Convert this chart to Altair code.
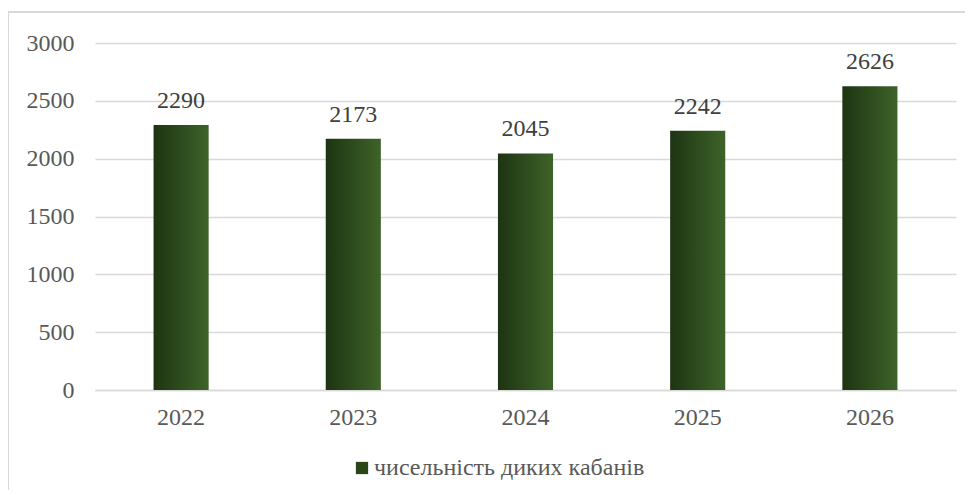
import altair as alt
import pandas as pd

years = ["2022", "2023", "2024", "2025", "2026"]
values = [2290, 2173, 2045, 2242, 2626]
series_name = "чисельність диких кабанів"
y_ticks = [0, 500, 1000, 1500, 2000, 2500, 3000]

df = pd.DataFrame({"year": years, "value": values, "series": [series_name] * len(years)})

FONT = "'Times New Roman', 'Liberation Serif', Tinos, 'DejaVu Serif', serif"
GRID = "#d9d9d9"
TXT = "#595959"
FS = 24

gradient = alt.Gradient(
    gradient="linear",
    x1=0, x2=1, y1=0, y2=0,
    stops=[alt.GradientStop(color="#1d3412", offset=0),
           alt.GradientStop(color="#3e6329", offset=1)],
)

x_enc = alt.X("year:N", sort=years, title=None,
              scale=alt.Scale(paddingInner=0.68, paddingOuter=0.34),
              axis=alt.Axis(labelAngle=0, labelFont=FONT, labelFontSize=FS, labelColor=TXT,
                            labelPadding=15, ticks=False, domainColor=GRID, domainWidth=1.5))
y_enc = alt.Y("value:Q", title=None,
              scale=alt.Scale(domain=[0, 3000], nice=False),
              axis=alt.Axis(values=y_ticks, format="d", labelFont=FONT, labelFontSize=FS,
                            labelColor=TXT, labelPadding=21, ticks=False, domain=False,
                            gridColor=GRID, gridWidth=1.5))

base = alt.Chart(df)

bars = base.mark_bar(color=gradient).encode(x=x_enc, y=y_enc)

labels = base.mark_text(font=FONT, fontSize=FS, color="#404040", baseline="bottom", dy=-12).encode(
    x=alt.X("year:N", sort=years), y="value:Q", text=alt.Text("value:Q", format="d"))

legend_layer = base.mark_square(opacity=0, size=0).encode(
    x=alt.X("year:N", sort=years), y="value:Q",
    color=alt.Color("series:N", scale=alt.Scale(range=["#2a4619"]),
                    legend=alt.Legend(title=None, orient="none", legendX=255, legendY=413,
                                      symbolType="square", symbolSize=150,
                                      symbolOpacity=1, symbolStrokeWidth=0,
                                      labelFont=FONT, labelFontSize=FS, labelColor=TXT,
                                      labelLimit=500, labelOffset=0)))

frame = base.mark_rect(filled=False, stroke=GRID, strokeWidth=1.5).encode(
    x=alt.value(-87), x2=alt.value(930), y=alt.value(-31), y2=alt.value(500))

chart = alt.layer(frame, bars, labels, legend_layer).properties(
    width=861, height=347,
    padding={"left": 87, "top": 35, "right": 9, "bottom": 100},
    autosize=alt.AutoSizeParams(type="none"),
    background="white",
).configure(font=FONT).configure_text(font=FONT).configure_legend(
    labelFont=FONT).configure_view(stroke=None)

chart.save("out.html", embed_options={"renderer": "svg", "actions": False})
